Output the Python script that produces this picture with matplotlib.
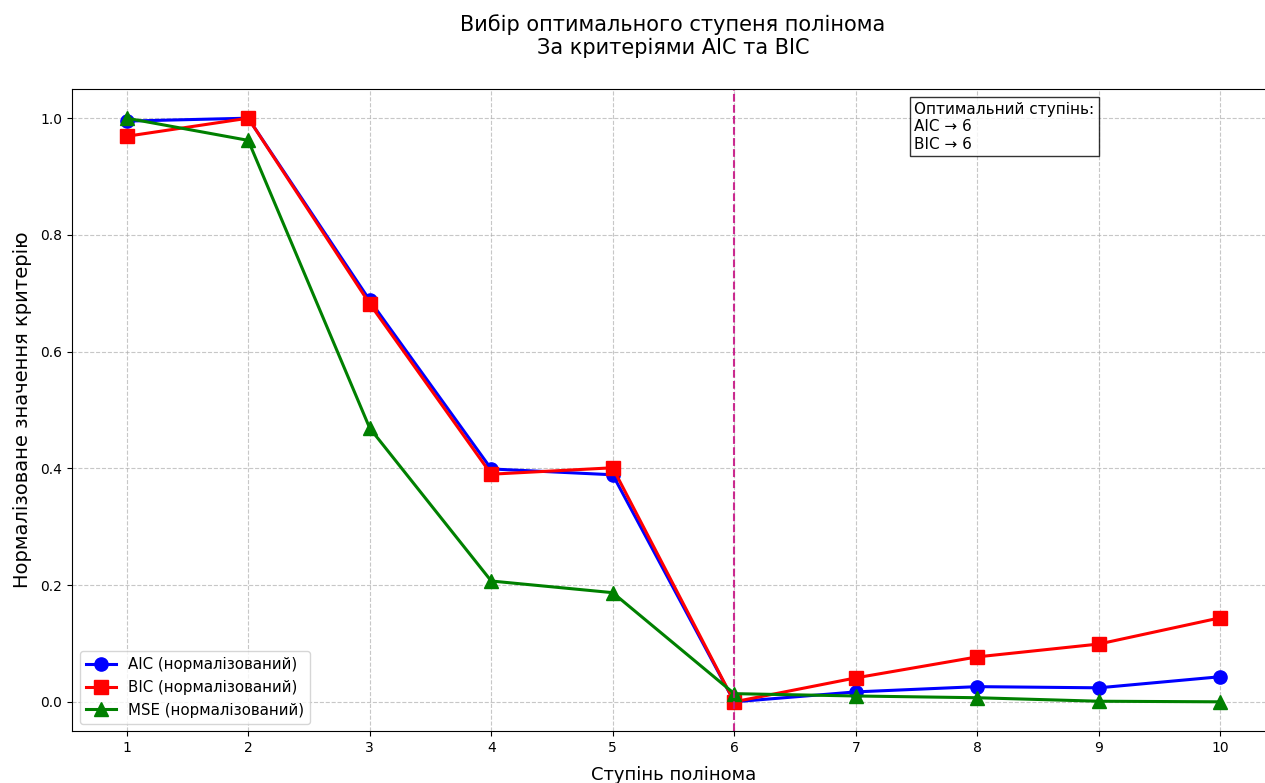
import numpy as np
import matplotlib
matplotlib.use('Agg')
import matplotlib.pyplot as plt

degrees = [1, 2, 3, 4, 5, 6, 7, 8, 9, 10]
aic_norm = [0.995, 1.0, 0.688, 0.399, 0.389, 0.0, 0.017, 0.026, 0.024, 0.043]
bic_norm = [0.969, 1.0, 0.682, 0.390, 0.401, 0.0, 0.041, 0.077, 0.099, 0.144]
mse_norm = [1.0, 0.962, 0.469, 0.207, 0.187, 0.014, 0.010, 0.007, 0.001, 0.0]
best_aic = 6
best_bic = 6

fig = plt.figure(figsize=(12.65, 7.83), dpi=100)
ax = fig.add_axes([72 / 1265, 1 - 731 / 783, (1275 - 72) / 1265, (731 - 89) / 783])

ax.plot(degrees, aic_norm, 'b-o', linewidth=2.2, markersize=9.5, label='AIC (нормалізований)')
ax.plot(degrees, bic_norm, 'r-s', linewidth=2.2, markersize=9.5, label='BIC (нормалізований)')
ax.plot(degrees, mse_norm, 'g-^', linewidth=2.2, markersize=9.5, label='MSE (нормалізований)')

ax.axvline(best_aic, color='mediumvioletred', linestyle='--', linewidth=1.5, alpha=0.9)

ax.text(
	0.7, 0.98,
	'Оптимальний ступінь:\nAIC → %d\nBIC → %d' % (best_aic, best_bic),
	transform=ax.transAxes,
	va='top', ha='left',
	fontsize=11,
	bbox=dict(boxstyle='square', facecolor='white', edgecolor='black', alpha=0.8)
)

ax.set_xticks(degrees)
ax.set_xlim(0.55, 10.45)
ax.set_ylim(-0.05, 1.05)
ax.grid(True, linestyle='--', alpha=0.7)
ax.legend(loc='lower left', fontsize=10.8)
ax.set_xlabel('Ступінь полінома', fontsize=13, labelpad=8)
ax.set_ylabel('Нормалізоване значення критерію', fontsize=14, labelpad=6)
fig.suptitle('Вибір оптимального ступеня полінома\nЗа критеріями AIC та BIC', fontsize=15, x=673 / 1265, y=0.982)

plt.savefig('out.png', dpi=100)
